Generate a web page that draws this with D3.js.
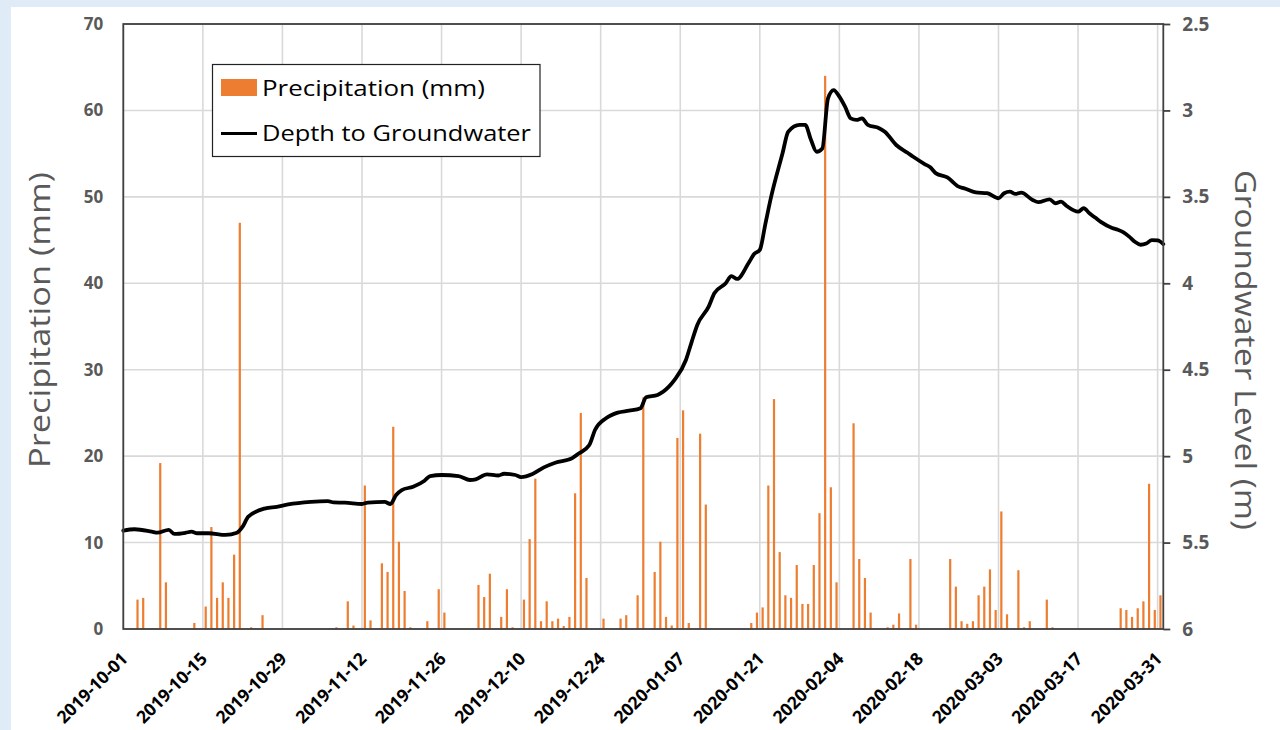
<!DOCTYPE html>
<html>
<head>
<meta charset="utf-8">
<script src="https://cdn.jsdelivr.net/npm/d3@7"></script>
<style>
  html, body { margin: 0; padding: 0; background: #dfebf6; }
  svg { display: block; }
</style>
</head>
<body>
<svg id="chart" width="1280" height="730"></svg>
<script>
// Daily precipitation (mm), days without rain omitted
const precipDates = [
  "2019-10-03","2019-10-04","2019-10-07","2019-10-08","2019-10-13","2019-10-15","2019-10-16","2019-10-17",
  "2019-10-18","2019-10-19","2019-10-20","2019-10-21","2019-10-23","2019-10-25",
  "2019-11-07","2019-11-09","2019-11-10","2019-11-12","2019-11-13","2019-11-15","2019-11-16","2019-11-17",
  "2019-11-18","2019-11-19","2019-11-20","2019-11-23","2019-11-25","2019-11-26",
  "2019-12-02","2019-12-03","2019-12-04","2019-12-06","2019-12-07","2019-12-08","2019-12-10","2019-12-11",
  "2019-12-12","2019-12-13","2019-12-14","2019-12-15","2019-12-16","2019-12-17","2019-12-18","2019-12-19",
  "2019-12-20","2019-12-21","2019-12-24","2019-12-27","2019-12-28","2019-12-30","2019-12-31",
  "2020-01-02","2020-01-03","2020-01-04","2020-01-05","2020-01-06","2020-01-07","2020-01-08","2020-01-10",
  "2020-01-11","2020-01-19","2020-01-20","2020-01-21","2020-01-22","2020-01-23","2020-01-24","2020-01-25",
  "2020-01-26","2020-01-27","2020-01-28","2020-01-29","2020-01-30","2020-01-31",
  "2020-02-01","2020-02-02","2020-02-03","2020-02-06","2020-02-07","2020-02-08","2020-02-09","2020-02-12",
  "2020-02-13","2020-02-14","2020-02-16","2020-02-17","2020-02-23","2020-02-24","2020-02-25","2020-02-26",
  "2020-02-27","2020-02-28","2020-02-29",
  "2020-03-01","2020-03-02","2020-03-03","2020-03-04","2020-03-06","2020-03-07","2020-03-08","2020-03-11",
  "2020-03-12","2020-03-24","2020-03-25","2020-03-26","2020-03-27","2020-03-28","2020-03-29","2020-03-30",
  "2020-03-31"
];
const precipValues = [
  3.4, 3.6, 19.2, 5.4, 0.7, 2.6, 11.8, 3.6,
  5.4, 3.6, 8.6, 47, 0.2, 1.6,
  0.2, 3.2, 0.4, 16.6, 1.0, 7.6, 6.6, 23.4,
  10.1, 4.4, 0.2, 0.9, 4.6, 1.9,
  5.1, 3.7, 6.4, 1.4, 4.6, 0.2, 3.4, 10.4,
  17.4, 0.9, 3.2, 0.9, 1.2, 0.35, 1.4, 15.7,
  25.0, 5.9, 1.2, 1.2, 1.6, 3.9, 26.8,
  6.6, 10.1, 1.4, 0.4, 22.1, 25.3, 0.7, 22.6,
  14.4, 0.7, 1.9, 2.5, 16.6, 26.6, 8.9, 3.9,
  3.6, 7.4, 2.9, 2.9, 7.4, 13.4,
  64, 16.4, 5.4, 23.8, 8.1, 5.9, 1.9, 0.2,
  0.5, 1.8, 8.1, 0.5, 8.1, 4.9, 0.9, 0.6,
  0.9, 3.9, 4.9,
  6.9, 2.2, 13.6, 1.7, 6.8, 0.2, 0.9, 3.4,
  0.2, 2.4, 2.2, 1.4, 2.4, 3.2, 16.8, 2.2,
  3.9
];

// Depth to groundwater (m below surface)
const depthDates = [
  "2019-10-01","2019-10-03","2019-10-06","2019-10-07","2019-10-09","2019-10-10","2019-10-12","2019-10-13",
  "2019-10-14","2019-10-16","2019-10-19","2019-10-21","2019-10-22","2019-10-23","2019-10-26","2019-10-28",
  "2019-10-30","2019-11-03","2019-11-06","2019-11-07","2019-11-09","2019-11-12","2019-11-13","2019-11-16",
  "2019-11-17","2019-11-18","2019-11-19","2019-11-21","2019-11-23","2019-11-24","2019-11-26","2019-11-29",
  "2019-12-01","2019-12-02","2019-12-04","2019-12-06","2019-12-07","2019-12-09","2019-12-10","2019-12-12",
  "2019-12-14","2019-12-16","2019-12-19","2019-12-20","2019-12-22","2019-12-23","2019-12-25","2019-12-27",
  "2019-12-29","2019-12-31","2020-01-01","2020-01-03","2020-01-05","2020-01-06","2020-01-08","2020-01-09",
  "2020-01-10","2020-01-12","2020-01-13","2020-01-15","2020-01-16","2020-01-17","2020-01-19","2020-01-20",
  "2020-01-21","2020-01-22","2020-01-23","2020-01-25","2020-01-26","2020-01-28","2020-01-29","2020-01-30",
  "2020-01-31","2020-02-01","2020-02-02","2020-02-03","2020-02-04","2020-02-05","2020-02-06","2020-02-07",
  "2020-02-08","2020-02-09","2020-02-11","2020-02-12","2020-02-14","2020-02-16","2020-02-17","2020-02-19",
  "2020-02-20","2020-02-21","2020-02-23","2020-02-25","2020-02-26","2020-02-28","2020-03-01","2020-03-03",
  "2020-03-04","2020-03-05","2020-03-06","2020-03-07","2020-03-09","2020-03-10","2020-03-12","2020-03-13",
  "2020-03-14","2020-03-15","2020-03-17","2020-03-18","2020-03-19","2020-03-20","2020-03-21","2020-03-23",
  "2020-03-24","2020-03-25","2020-03-26","2020-03-27","2020-03-28","2020-03-29","2020-03-30","2020-03-31",
  "2020-04-01"
];
const depthValues = [
  5.431, 5.423, 5.437, 5.443, 5.427, 5.450, 5.443, 5.437,
  5.446, 5.446, 5.456, 5.443, 5.408, 5.350, 5.302, 5.293,
  5.279, 5.264, 5.260, 5.268, 5.269, 5.277, 5.269, 5.265,
  5.277, 5.225, 5.196, 5.177, 5.142, 5.115, 5.109, 5.115,
  5.138, 5.134, 5.105, 5.112, 5.102, 5.109, 5.121, 5.103,
  5.065, 5.038, 5.011, 4.988, 4.936, 4.849, 4.779, 4.748,
  4.737, 4.723, 4.659, 4.646, 4.598, 4.559, 4.444, 4.340,
  4.241, 4.135, 4.058, 4.000, 3.958, 3.975, 3.884, 3.831,
  3.807, 3.653, 3.499, 3.248, 3.123, 3.084, 3.084, 3.170,
  3.239, 3.220, 2.930, 2.882, 2.920, 2.978, 3.046, 3.055,
  3.046, 3.084, 3.103, 3.123, 3.200, 3.245, 3.268, 3.310,
  3.329, 3.364, 3.387, 3.441, 3.451, 3.474, 3.479, 3.508,
  3.479, 3.470, 3.483, 3.476, 3.518, 3.531, 3.514, 3.537,
  3.528, 3.553, 3.586, 3.566, 3.595, 3.620, 3.645, 3.680,
  3.690, 3.705, 3.730, 3.760, 3.777, 3.770, 3.750, 3.752,
  3.773
];

// Axis ticks
const dateTicks = [
  "2019-10-01","2019-10-15","2019-10-29","2019-11-12","2019-11-26","2019-12-10","2019-12-24",
  "2020-01-07","2020-01-21","2020-02-04","2020-02-18","2020-03-03","2020-03-17","2020-03-31"
];
const precipTicks = [0, 10, 20, 30, 40, 50, 60, 70];
const depthTicks = [2.5, 3, 3.5, 4, 4.5, 5, 5.5, 6];

const parse = d3.utcParse("%Y-%m-%d");
const svg = d3.select("#chart");
const FONT = "'Open Sans', Lato, sans-serif";
const GREY = "#595959";

// page panel
svg.append("rect").attr("x", 11).attr("y", 7).attr("width", 1269).attr("height", 723).attr("fill", "#ffffff");

const plotL = 123.3, plotR = 1163.3, plotT = 24, plotB = 629;

const x = d3.scaleUtc()
  .domain([parse("2019-10-01"), parse("2020-04-01")])
  .range([plotL, plotR]);
const yP = d3.scaleLinear().domain([0, 70]).range([plotB, plotT]);
const yD = d3.scaleLinear().domain([2.5, 6]).range([plotT, plotB]);

// gridlines
const grid = svg.append("g").attr("stroke", "#d9d9d9").attr("stroke-width", 1.6);
grid.selectAll("line.h").data(precipTicks).join("line").attr("class", "h")
  .attr("x1", plotL).attr("x2", plotR)
  .attr("y1", d => yP(d)).attr("y2", d => yP(d));
grid.selectAll("line.v").data(dateTicks).join("line").attr("class", "v")
  .attr("x1", d => x(parse(d))).attr("x2", d => x(parse(d)))
  .attr("y1", plotT).attr("y2", plotB);

// precipitation bars, centred on each day
const precip = precipDates.map((d, i) => ({ date: parse(d), value: precipValues[i] }));
const barW = 2.2;
svg.append("g").selectAll("rect").data(precip).join("rect")
  .attr("x", d => x(d3.utcHour.offset(d.date, 12)) - barW / 2)
  .attr("width", barW)
  .attr("y", d => yP(d.value))
  .attr("height", d => yP(0) - yP(d.value))
  .attr("fill", "#ed7d31");

// depth to groundwater line
const depth = depthDates.map((d, i) => ({ date: parse(d), value: depthValues[i] }));
const line = d3.line().x(d => x(d.date)).y(d => yD(d.value)).curve(d3.curveMonotoneX);
svg.append("path").datum(depth)
  .attr("d", line)
  .attr("fill", "none")
  .attr("stroke", "#000")
  .attr("stroke-width", 3.8)
  .attr("stroke-linejoin", "round")
  .attr("stroke-linecap", "round");

// plot frame
svg.append("rect")
  .attr("x", plotL).attr("y", plotT)
  .attr("width", plotR - plotL).attr("height", plotB - plotT)
  .attr("fill", "none").attr("stroke", "#404040").attr("stroke-width", 1.8);

// left axis labels
const leftAxis = svg.append("g").attr("transform", `translate(${plotL},0)`)
  .call(d3.axisLeft(yP).tickValues(precipTicks).tickSize(0).tickPadding(20).tickFormat(d3.format("d")));
leftAxis.select(".domain").remove();
leftAxis.selectAll("text").attr("font-family", FONT).attr("font-weight", "bold")
  .attr("font-size", 17).attr("fill", GREY);

// right axis with outward ticks
const rightAxis = svg.append("g").attr("transform", `translate(${plotR},0)`)
  .call(d3.axisRight(yD).tickValues(depthTicks).tickSize(7).tickPadding(12).tickFormat(d => String(d)));
rightAxis.select(".domain").remove();
rightAxis.selectAll("line").attr("stroke", "#404040").attr("stroke-width", 1.8);
rightAxis.selectAll("text").attr("font-family", FONT).attr("font-weight", "bold")
  .attr("font-size", 19).attr("fill", GREY);

// date labels, rotated
const xAxis = svg.append("g").attr("transform", `translate(0,${plotB})`)
  .call(d3.axisBottom(x).tickValues(dateTicks.map(parse)).tickSize(0).tickFormat(d3.utcFormat("%Y-%m-%d")));
xAxis.select(".domain").remove();
xAxis.selectAll("text")
  .attr("font-family", FONT).attr("font-weight", "bold").attr("font-size", 17.5).attr("fill", "#000")
  .attr("text-anchor", "end")
  .attr("dy", null).attr("y", null)
  .attr("transform", "translate(5,31) rotate(-45)");

// axis titles
svg.append("text")
  .attr("transform", "translate(50,320) rotate(-90)")
  .attr("text-anchor", "middle")
  .attr("font-family", FONT).attr("font-size", 30).attr("fill", GREY)
  .attr("textLength", 296).attr("lengthAdjust", "spacingAndGlyphs")
  .text("Precipitation (mm)");
svg.append("text")
  .attr("transform", "translate(1235,350) rotate(90)")
  .attr("text-anchor", "middle")
  .attr("font-family", FONT).attr("font-size", 30).attr("fill", GREY)
  .attr("textLength", 360).attr("lengthAdjust", "spacingAndGlyphs")
  .text("Groundwater Level (m)");

// legend
const lg = svg.append("g");
lg.append("rect").attr("x", 212.5).attr("y", 64.5).attr("width", 327.5).attr("height", 92)
  .attr("fill", "#fff").attr("stroke", "#222").attr("stroke-width", 1.2);
lg.append("rect").attr("x", 221).attr("y", 79).attr("width", 36).attr("height", 17).attr("fill", "#ed7d31");
lg.append("text").attr("x", 262).attr("y", 96).attr("font-family", FONT).attr("font-size", 22)
  .attr("textLength", 223).attr("lengthAdjust", "spacingAndGlyphs")
  .attr("fill", "#000").text("Precipitation (mm)");
lg.append("line").attr("x1", 221).attr("x2", 257).attr("y1", 133.5).attr("y2", 133.5)
  .attr("stroke", "#000").attr("stroke-width", 3);
lg.append("text").attr("x", 262).attr("y", 141).attr("font-family", FONT).attr("font-size", 22)
  .attr("textLength", 269).attr("lengthAdjust", "spacingAndGlyphs")
  .attr("fill", "#000").text("Depth to Groundwater");
</script>
</body>
</html>
